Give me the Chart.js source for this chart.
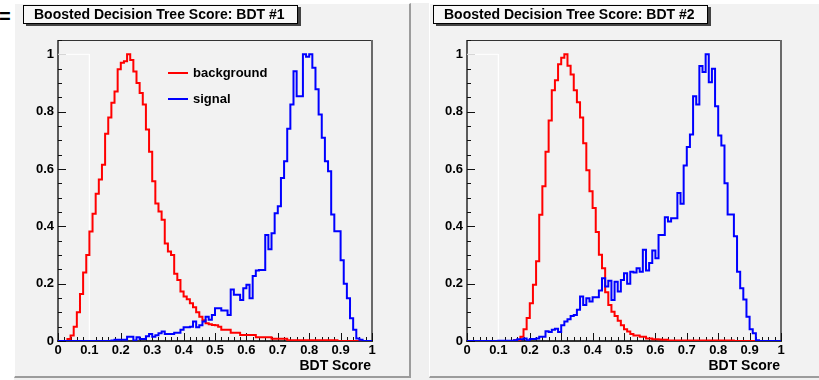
<!DOCTYPE html>
<html><head><meta charset="utf-8">
<script src="https://cdn.jsdelivr.net/npm/chart.js@4.4.1/dist/chart.umd.min.js"></script>
<style>
html,body{margin:0;padding:0;background:#fff;width:819px;height:380px;overflow:hidden;position:relative;}
#bg{position:absolute;left:14px;top:3px;width:805px;height:377px;background:#f0f0f0;}
.panel{position:absolute;top:3px;height:375px;background:#f2f2f2;box-sizing:border-box;border-left:1px solid #fff;border-top:1px solid #fff;border-right:2px solid #9c9c9c;border-bottom:2px solid #9c9c9c;}
#p1{left:14px;width:397px;}
#p2{left:429px;width:400px;}
canvas{position:absolute;top:3px;}
#c1{left:14px;}
#c2{left:429px;}
#eq{position:absolute;left:-1px;top:6px;font:bold 20px "Liberation Sans",Arial,sans-serif;line-height:20px;color:#000;}
</style></head>
<body>
<div id="bg"></div>
<div class="panel" id="p1"></div>
<div class="panel" id="p2"></div>
<div id="eq">=</div>
<canvas id="c1" width="396" height="374"></canvas>
<canvas id="c2" width="390" height="374"></canvas>
<script>
// ---------------- data ----------------
const BIN_WIDTH = 0.01;
const panelTitles = ["Boosted Decision Tree Score: BDT #1", "Boosted Decision Tree Score: BDT #2"];
const seriesLabels = ["background", "signal"];
const axisTitle = "BDT Score";
const xTickValues = [0, 0.1, 0.2, 0.3, 0.4, 0.5, 0.6, 0.7, 0.8, 0.9, 1];
const xTickLabels = ["0", "0.1", "0.2", "0.3", "0.4", "0.5", "0.6", "0.7", "0.8", "0.9", "1"];
const yTickValues = [0, 0.2, 0.4, 0.6, 0.8, 1];
const yTickLabels = ["0", "0.2", "0.4", "0.6", "0.8", "1"];
const whiteBoxX = [0, 0.1, 0.1];
const whiteBoxY = [1, 1, 0];

const bdt1Background = [
 0,0,0,0,0.007,0.019,0.05,0.10,0.164,0.239,
 0.30,0.382,0.444,0.514,0.563,0.615,0.723,0.78,0.831,0.87,
 0.948,0.971,0.976,1.0,0.98,0.94,0.90,0.865,0.825,0.738,
 0.66,0.557,0.48,0.452,0.423,0.34,0.312,0.30,0.235,0.213,
 0.173,0.155,0.146,0.132,0.118,0.10,0.085,0.072,0.062,0.058,
 0.056,0.055,0.05,0.039,0.039,0.039,0.029,0.029,0.029,0.021,
 0.021,0.021,0.021,0.021,0.013,0.013,0.013,0.013,0.013,0.008,
 0.008,0.008,0.008,0.008,0.003,0.003,0.003,0.003,0.003,0.003,
 0.003,0.003,0.003,0.003,0.003,0.003,0.003,0.003,0.003,0.003,
 0,0,0,0,0,0,0,0,0,0
];
const bdt1Signal = [
 0,0,0,0,0,0,0,0,0,0,
 0,0,0,0,0,0,0,0,0.002,0.004,
 0.004,0.004,0.004,0.015,0.015,0.002,0.013,0.007,0.007,0.017,
 0.024,0.015,0.02,0.027,0.033,0.024,0.024,0.024,0.029,0.029,
 0.039,0.048,0.048,0.05,0.068,0.048,0.055,0.068,0.085,0.074,
 0.091,0.114,0.114,0.106,0.106,0.091,0.18,0.161,0.161,0.143,
 0.184,0.196,0.149,0.227,0.246,0.248,0.248,0.37,0.32,0.376,
 0.446,0.47,0.569,0.627,0.74,0.825,0.941,0.854,0.854,1.0,
 0.992,1.0,0.953,0.878,0.79,0.709,0.627,0.592,0.441,0.383,
 0.383,0.282,0.2,0.149,0.079,0.039,0.009,0.004,0,0
];
const bdt2Background = [
 0,0,0,0,0,0,0,0,0,0,
 0,0,0,0,0,0,0.003,0.003,0.015,0.041,
 0.08,0.132,0.196,0.278,0.44,0.54,0.66,0.769,0.875,0.91,
 0.965,0.988,1.0,0.96,0.93,0.875,0.833,0.78,0.69,0.596,
 0.522,0.464,0.38,0.301,0.254,0.17,0.126,0.102,0.087,0.071,
 0.055,0.041,0.033,0.024,0.019,0.019,0.015,0.015,0.009,0.009,
 0.006,0.006,0.005,0.004,0.004,0.002,0.002,0.002,0.002,0.002,
 0.002,0.002,0.002,0.002,0.002,0.002,0.002,0.002,0.002,0.002,
 0.002,0.002,0.002,0.002,0.002,0.002,0,0,0,0,
 0,0,0,0,0,0,0,0,0,0
];
const bdt2Signal = [
 0,0,0,0,0,0,0,0,0,0,
 0,0.001,0.001,0.001,0.001,0.001,0.003,0.006,0.006,0.009,
 0.003,0.007,0.007,0.009,0.015,0.015,0.034,0.031,0.039,0.043,
 0.031,0.055,0.068,0.076,0.087,0.091,0.109,0.155,0.126,0.149,
 0.138,0.153,0.153,0.176,0.219,0.19,0.21,0.143,0.207,0.173,
 0.213,0.236,0.2,0.242,0.239,0.254,0.242,0.318,0.246,0.272,
 0.316,0.289,0.37,0.37,0.432,0.417,0.428,0.428,0.516,0.479,
 0.612,0.677,0.72,0.854,0.825,0.959,0.938,1.0,0.903,0.95,
 0.819,0.717,0.682,0.55,0.441,0.441,0.365,0.242,0.184,0.145,
 0.085,0.041,0.027,0.003,0,0,0,0,0,0
];

// ---------------- helpers ----------------
function toSteps(vals) {
  const pts = vals.map((v, i) => ({x: i * BIN_WIDTH, y: v}));
  pts.push({x: vals.length * BIN_WIDTH, y: vals[vals.length - 1]});
  return pts;
}
const FONT = '"Liberation Sans", Arial, Helvetica, sans-serif';

const rootDecor = {
  id: 'rootDecor',
  beforeDraw(chart, args, o) {
    const ctx = chart.ctx;
    ctx.save();
    const bx = o.boxLeft, by = 2, bw = o.boxWidth, bh = 19;
    ctx.fillStyle = '#444';
    ctx.fillRect(bx + 3, by + 2, bw, bh);
    ctx.fillStyle = '#f8f8f8';
    ctx.fillRect(bx, by, bw, bh);
    ctx.strokeStyle = '#000';
    ctx.lineWidth = 1;
    ctx.strokeRect(bx + 0.5, by + 0.5, bw - 1, bh - 1);
    ctx.fillStyle = '#000';
    ctx.font = 'bold 14px ' + FONT;
    ctx.textBaseline = 'middle';
    ctx.textAlign = 'left';
    ctx.fillText(o.title, bx + 11, by + 10);
    ctx.restore();
  },
  beforeDatasetsDraw(chart) {
    const {ctx, chartArea: a, scales: {x, y}} = chart;
    ctx.save();
    ctx.strokeStyle = '#333';
    ctx.lineWidth = 1;
    ctx.beginPath();
    ctx.moveTo(a.left, a.top + 0.5);
    ctx.lineTo(a.right, a.top + 0.5);
    ctx.stroke();
    ctx.strokeStyle = '#6a6a6a';
    ctx.lineWidth = 2;
    ctx.beginPath();
    ctx.moveTo(a.right, a.top);
    ctx.lineTo(a.right, a.bottom);
    ctx.stroke();
    ctx.strokeStyle = '#5a5a5a';
    ctx.beginPath();
    ctx.moveTo(a.left, a.top);
    ctx.lineTo(a.left, a.bottom + 1);
    ctx.stroke();
    ctx.strokeStyle = '#333';
    ctx.beginPath();
    ctx.moveTo(a.left - 1, a.bottom);
    ctx.lineTo(a.right + 1, a.bottom);
    ctx.stroke();
    ctx.strokeStyle = '#111';
    ctx.lineWidth = 1;
    ctx.beginPath();
    for (let k = 0; k <= 50; k++) {
      const px = Math.round(x.getPixelForValue(k / 50)) + 0.5;
      const len = (k % 5 === 0) ? 8 : 4;
      ctx.moveTo(px, a.bottom);
      ctx.lineTo(px, a.bottom - len);
    }
    for (let k = 0; k <= 21; k++) {
      const py = Math.round(y.getPixelForValue(k * 0.05)) + 0.5;
      const len = (k % 4 === 0) ? 8 : 4;
      ctx.moveTo(a.left, py);
      ctx.lineTo(a.left + len, py);
    }
    ctx.stroke();
    ctx.restore();
  },
  afterDatasetsDraw(chart, args, o) {
    const {ctx, chartArea: a} = chart;
    ctx.save();
    ctx.fillStyle = '#000';
    ctx.font = 'bold 14px ' + FONT;
    ctx.textAlign = 'right';
    ctx.textBaseline = 'middle';
    ctx.fillText(axisTitle, a.right - 1, 363);
    if (o.legend) {
      const items = chart.data.datasets.filter(d => d.inLegend).sort((p, q) => p.legendRank - q.legendRank);
      items.forEach((d, i) => {
        const ly = 70 + i * 26;
        ctx.strokeStyle = d.borderColor;
        ctx.lineWidth = 2;
        ctx.beginPath();
        ctx.moveTo(154, ly);
        ctx.lineTo(174, ly);
        ctx.stroke();
        ctx.fillStyle = '#000';
        ctx.font = 'bold 13px ' + FONT;
        ctx.textAlign = 'left';
        ctx.fillText(d.label, 179, ly);
      });
    }
    ctx.restore();
  }
};

function makeChart(id, cfg) {
  const tickFont = {family: FONT, weight: 'bold', size: 13};
  return new Chart(document.getElementById(id), {
    type: 'line',
    data: {
      datasets: [
        {label: seriesLabels[1], data: toSteps(cfg.sig), borderColor: '#0000ff', borderWidth: 2,
         stepped: 'after', pointRadius: 0, fill: false, order: 0, inLegend: true, legendRank: 1},
        {label: seriesLabels[0], data: toSteps(cfg.bkg), borderColor: '#ff0000', borderWidth: 2,
         stepped: 'after', pointRadius: 0, fill: false, order: 1, inLegend: true, legendRank: 0},
        {label: '', data: whiteBoxX.map((v, i) => ({x: v, y: whiteBoxY[i]})), borderColor: '#ffffff',
         borderWidth: 1, pointRadius: 0, fill: false, order: 5, inLegend: false}
      ]
    },
    options: {
      responsive: false, animation: false, devicePixelRatio: 1,
      layout: {padding: {left: 0, right: cfg.padRight, top: 37, bottom: 0}},
      plugins: {
        legend: {display: false}, tooltip: {enabled: false},
        rootDecor: {title: cfg.title, boxLeft: cfg.boxLeft, boxWidth: 275, legend: cfg.legend}
      },
      scales: {
        x: {
          type: 'linear', min: 0, max: 1,
          grid: {display: false, drawTicks: false, tickLength: 0}, border: {display: false},
          afterBuildTicks: s => { s.ticks = xTickValues.map(v => ({value: v})); },
          afterFit: s => { s.height = 36; },
          ticks: {autoSkip: false, maxRotation: 0, minRotation: 0, padding: 2, color: '#000', font: tickFont,
                  callback: (v, i) => xTickLabels[i]}
        },
        y: {
          type: 'linear', min: 0, max: 1.05,
          grid: {display: false, drawTicks: false, tickLength: 0}, border: {display: false},
          afterBuildTicks: s => { s.ticks = yTickValues.map(v => ({value: v})); },
          afterFit: s => { s.width = cfg.yWidth; },
          ticks: {autoSkip: false, padding: 4, color: '#000', font: tickFont,
                  callback: (v, i) => yTickLabels[i]}
        }
      }
    },
    plugins: [rootDecor]
  });
}

makeChart('c1', {title: panelTitles[0], bkg: bdt1Background, sig: bdt1Signal, yWidth: 44, padRight: 38, boxLeft: 9, legend: true});
makeChart('c2', {title: panelTitles[1], bkg: bdt2Background, sig: bdt2Signal, yWidth: 38, padRight: 38, boxLeft: 4, legend: false});
</script>
</body></html>
